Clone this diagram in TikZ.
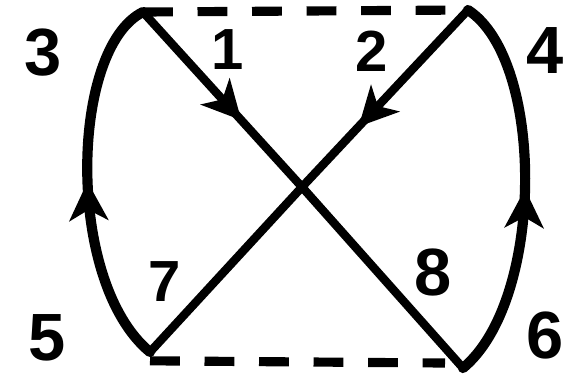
\documentclass[tikz,border=0pt]{standalone}
\usepackage{fontspec}
\setmainfont{Liberation Sans}
\usetikzlibrary{arrows.meta,decorations.markings}
\tikzset{
  edge/.style={line width=2.4pt, line cap=round, line join=round},
  bow/.style={line width=2.9pt, line cap=round, line join=round},
  dashedge/.style={line width=2.6pt, dash pattern=on 8.5pt off 7pt},
  midarrow/.style={postaction={decorate}, decoration={markings,
    mark=at position #1 with {\arrow{Stealth[length=11pt,width=11pt,inset=3pt]}}}},
  lab/.style={font=\bfseries\fontsize{19}{19}\selectfont, inner sep=0pt},
  labs/.style={font=\bfseries\fontsize{16.5}{16.5}\selectfont, inner sep=0pt}
}
\begin{document}
\begin{tikzpicture}[x=0.01cm, y=-0.01cm]
\useasboundingbox (0,0) rectangle (564,381);
\coordinate (TL) at (143,12);
\coordinate (TR) at (468,10);
\coordinate (BL) at (150,352);
\coordinate (BR) at (463,368);
\coordinate (C) at (302,187);
\coordinate (BD) at (445,363);
% dashed top and bottom
\draw[dashedge] (TL) -- (TR);
\draw[dashedge] ([yshift=-2.5pt]BL) -- (BD);
% diagonals
\draw[edge, midarrow=0.62] (TL) -- (C);
\draw[edge] (C) -- (BR);
\draw[edge, midarrow=0.66] (TR) -- (C);
\draw[edge] (C) -- (BL);
% side bows
\draw[bow, midarrow=0.5] (BL) .. controls (65,282) and (70,48) .. (TL);
\draw[bow, midarrow=0.5] (BR) .. controls (545,300) and (545,60) .. (TR);
% labels
\node[lab]  (n3) at (43,53)  {3};
\node[labs] (n1) at (228,50) {1};
\node[labs] (n2) at (372,51) {2};
\node[lab]  (n4) at (545,51) {4};
\node[lab]  (n5) at (47,338) {5};
\node[labs] (n7) at (165,282) {7};
\node[lab]  (n8) at (433,272) {8};
\node[lab]  (n6) at (545,335) {6};
\end{tikzpicture}
\end{document}
